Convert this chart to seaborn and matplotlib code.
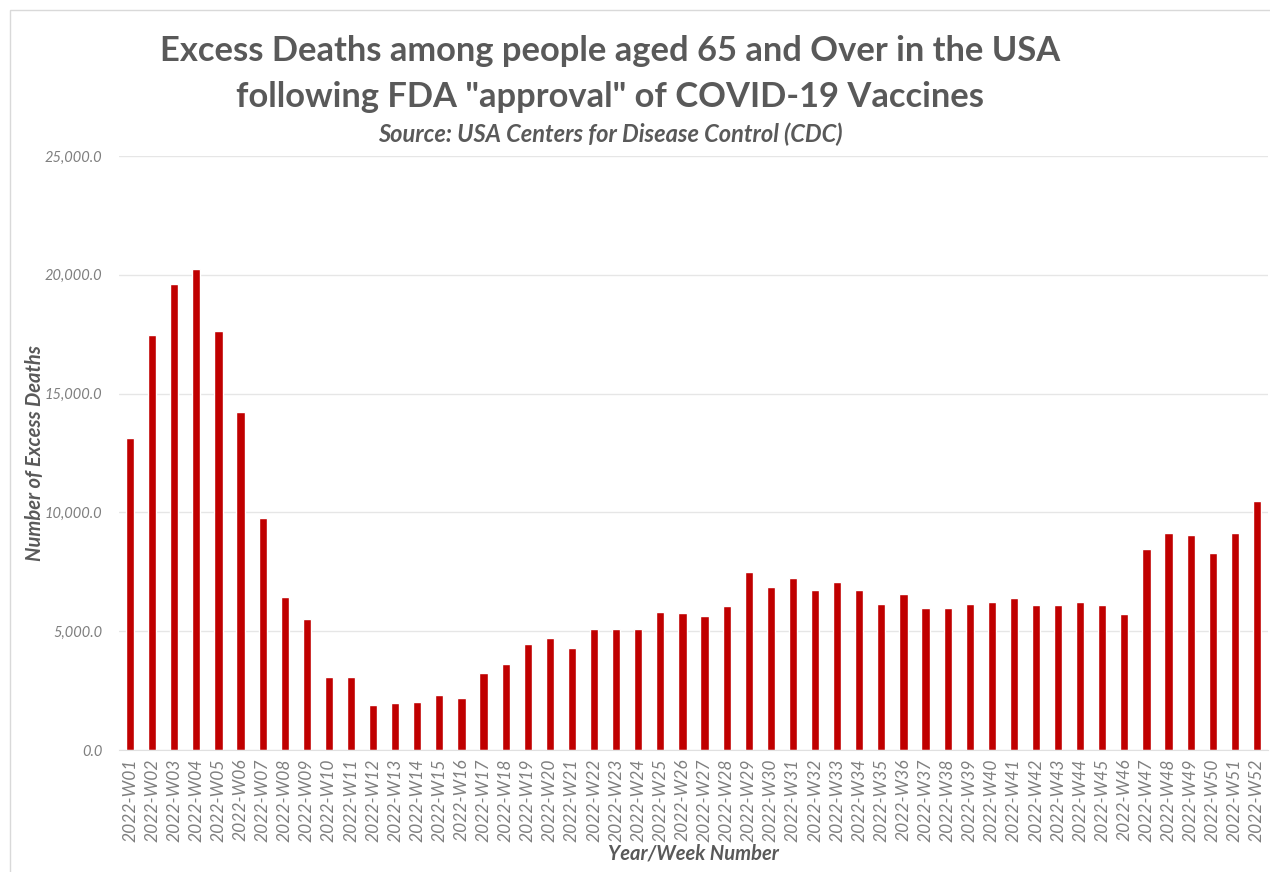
import matplotlib
matplotlib.use('Agg')
from matplotlib import pyplot as plt
from matplotlib.patches import Rectangle
from matplotlib.ticker import FuncFormatter
import pandas as pd
import seaborn as sns

weeks = ['2022-W%02d' % i for i in range(1, 53)]
excess_deaths = [
    13150, 17460, 19620, 20230, 17650, 14210, 9750, 6430, 5520, 3070,
    3070, 1910, 1990, 2020, 2320, 2170, 3220, 3610, 4470, 4730,
    4280, 5100, 5100, 5100, 5800, 5750, 5650, 6070, 7500, 6880,
    7230, 6740, 7060, 6740, 6150, 6560, 5970, 5970, 6140, 6220,
    6410, 6110, 6110, 6240, 6110, 5720, 8480, 9130, 9050, 8310,
    9130, 10490,
]
y_ticks = [0, 5000, 10000, 15000, 20000, 25000]

df = pd.DataFrame({'week': weeks, 'deaths': excess_deaths})

sns.set_style('white')
plt.rcParams['font.family'] = ['Lato', 'DejaVu Sans']
grey = '#595959'

fig = plt.figure(figsize=(12.7, 8.72), dpi=100)
ax = fig.add_axes([119 / 1270, 1 - 750 / 872, (1268 - 119) / 1270, (750 - 156) / 872])

sns.barplot(data=df, x='week', y='deaths', color='#C00000', width=0.37,
            saturation=1, ax=ax)

ax.set_xlim(-0.5, 51.5)
ax.set_ylim(0, 25000)
ax.set_yticks(y_ticks)
ax.yaxis.set_major_formatter(FuncFormatter(lambda v, p: '{:,.1f}'.format(v)))
ax.grid(axis='y', color='#E6E6E6', linewidth=1)
ax.set_axisbelow(True)
for s in ['top', 'right', 'left']:
    ax.spines[s].set_visible(False)
ax.spines['bottom'].set_color('#E0E0E0')
ax.tick_params(axis='both', length=0)
ax.tick_params(axis='y', pad=12)
ax.tick_params(axis='x', pad=6)

for lab in ax.get_yticklabels():
    lab.set_fontstyle('italic')
    lab.set_fontsize(10.5)
    lab.set_color('#7F7F7F')
for lab in ax.get_xticklabels():
    lab.set_rotation(90)
    lab.set_fontstyle('italic')
    lab.set_fontsize(12.5)
    lab.set_color('#7F7F7F')

ax.set_xlabel('Year/Week Number', fontsize=14.5, fontweight='bold',
              fontstyle='italic', color=grey, labelpad=1)
ax.set_ylabel('Number of Excess Deaths', fontsize=14.5, fontweight='bold',
              fontstyle='italic', color=grey, labelpad=0)

fig.text(610 / 1270, 1 - 51 / 872,
         'Excess Deaths among people aged 65 and Over in the USA',
         ha='center', va='center', fontsize=24.8, fontweight='bold', color=grey)
fig.text(610 / 1270, 1 - 97 / 872,
         'following FDA "approval" of COVID-19 Vaccines',
         ha='center', va='center', fontsize=24.8, fontweight='bold', color=grey)
fig.text(610 / 1270, 1 - 134 / 872,
         'Source: USA Centers for Disease Control (CDC)',
         ha='center', va='center', fontsize=17, fontweight='bold',
         fontstyle='italic', color=grey)

fig.patches.append(Rectangle((10 / 1270, -0.1), 1.2, 1 - 10 / 872 + 0.1,
                             transform=fig.transFigure, fill=False,
                             edgecolor='#D9D9D9', linewidth=1))

plt.savefig('out.png', dpi=100)
